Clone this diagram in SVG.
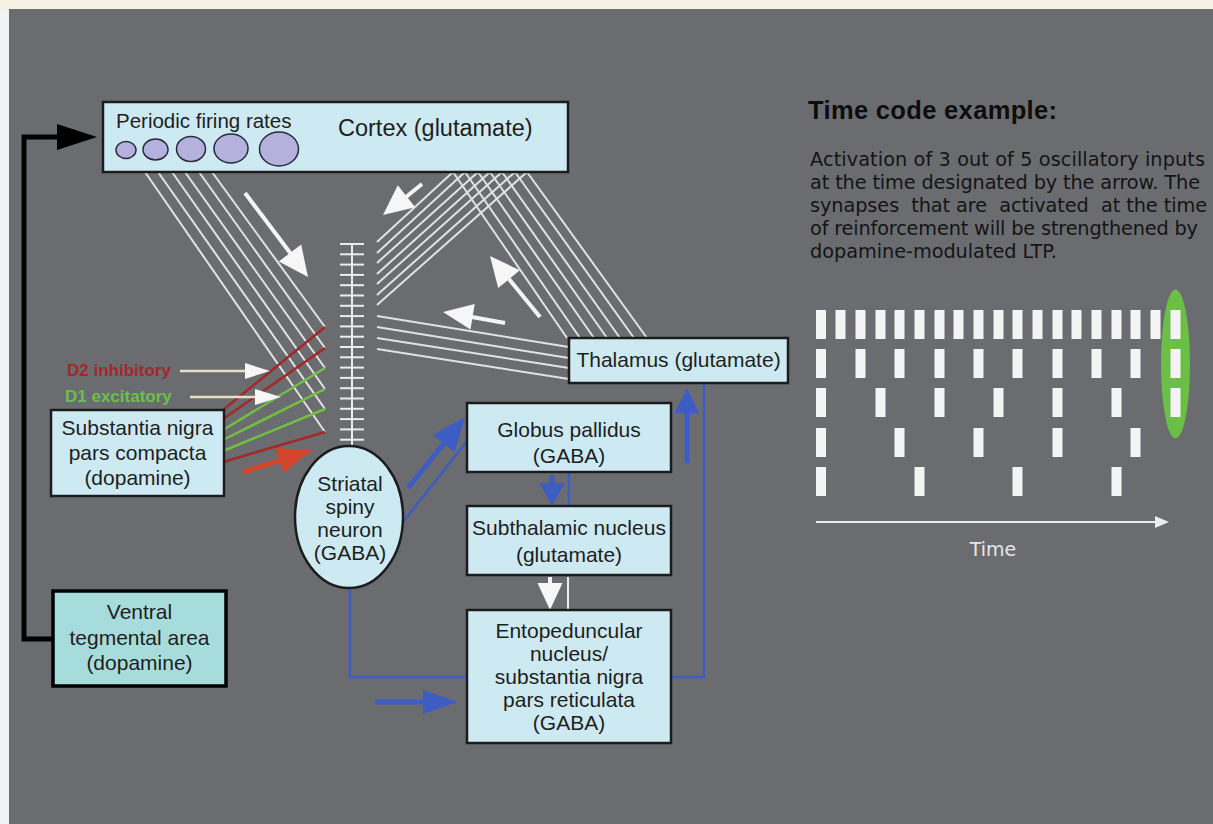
<svg xmlns="http://www.w3.org/2000/svg" width="1213" height="824" viewBox="0 0 1213 824">
<style>
.box{fill:#cdeaf2;stroke:#1c1c1c;stroke-width:2.5}
.t{font-family:"Liberation Sans",Arial,sans-serif;font-size:21px;fill:#1e1e1e;text-anchor:middle}
.w{stroke:#e2e2e2;stroke-width:2;fill:none}
.red{stroke:#a3282a;stroke-width:2.5}
.grn{stroke:#72c043;stroke-width:2.5}
.bl{stroke:#3d5cc4;fill:none;stroke-width:2.5}
.blt{stroke:#3d5cc4;stroke-width:5;fill:none}
.blh{fill:#3d5cc4}
.wa{stroke:#f4f4f4;stroke-width:4}
.wh{fill:#f6f6f6}
.bar{fill:#f4f4f4}
.circ{fill:#b4b1dd;stroke:#2a2a3a;stroke-width:1.5}
.body{font-family:"DejaVu Sans","Liberation Sans",sans-serif;font-size:19.3px;fill:#141414}
</style>
<rect x="0" y="0" width="1213" height="824" fill="#f4f1e3"/>
<rect x="0" y="9" width="9" height="815" fill="#f2f2f2"/>
<rect x="9" y="9" width="1204" height="815" fill="#6b6c70"/>

<g id="connectors">
  <g class="w">
    <line x1="145" y1="172" x2="325" y2="432"/>
    <line x1="158" y1="172" x2="325" y2="409"/>
    <line x1="172" y1="172" x2="325" y2="389"/>
    <line x1="185" y1="172" x2="325" y2="368"/>
    <line x1="199" y1="172" x2="325" y2="348"/>
    <line x1="212" y1="172" x2="325" y2="327"/>
    <line x1="453" y1="172" x2="377" y2="242"/>
    <line x1="465" y1="172" x2="377" y2="253"/>
    <line x1="478" y1="172" x2="377" y2="263"/>
    <line x1="490" y1="172" x2="377" y2="274"/>
    <line x1="502" y1="172" x2="377" y2="284"/>
    <line x1="515" y1="172" x2="377" y2="295"/>
    <line x1="527" y1="172" x2="377" y2="305"/>
    <line x1="453" y1="172" x2="567" y2="338"/>
    <line x1="465" y1="172" x2="580" y2="338"/>
    <line x1="478" y1="172" x2="594" y2="338"/>
    <line x1="490" y1="172" x2="607" y2="338"/>
    <line x1="502" y1="172" x2="620" y2="338"/>
    <line x1="515" y1="172" x2="634" y2="338"/>
    <line x1="527" y1="172" x2="647" y2="338"/>
    <line x1="569" y1="347" x2="377" y2="316"/>
    <line x1="569" y1="358" x2="377" y2="327"/>
    <line x1="569" y1="368" x2="377" y2="338"/>
    <line x1="569" y1="379" x2="377" y2="349"/>
  </g>
  <line class="red" x1="223" y1="410" x2="325" y2="327"/>
  <line class="red" x1="223" y1="419" x2="325" y2="348"/>
  <line class="grn" x1="223" y1="430" x2="325" y2="368"/>
  <line class="grn" x1="223" y1="440" x2="325" y2="389"/>
  <line class="grn" x1="223" y1="451" x2="325" y2="409"/>
  <line class="red" x1="223" y1="462" x2="325" y2="432"/>
  <g stroke="#ececec" stroke-width="2">
    <line x1="352" y1="243" x2="352" y2="448"/>
    <line x1="340" y1="244" x2="364" y2="244"/>
    <line x1="340" y1="254.3" x2="364" y2="254.3"/>
    <line x1="340" y1="264.6" x2="364" y2="264.6"/>
    <line x1="340" y1="274.9" x2="364" y2="274.9"/>
    <line x1="340" y1="285.2" x2="364" y2="285.2"/>
    <line x1="340" y1="295.5" x2="364" y2="295.5"/>
    <line x1="340" y1="305.8" x2="364" y2="305.8"/>
    <line x1="340" y1="316.1" x2="364" y2="316.1"/>
    <line x1="340" y1="326.4" x2="364" y2="326.4"/>
    <line x1="340" y1="336.7" x2="364" y2="336.7"/>
    <line x1="340" y1="347" x2="364" y2="347"/>
    <line x1="340" y1="357.3" x2="364" y2="357.3"/>
    <line x1="340" y1="367.6" x2="364" y2="367.6"/>
    <line x1="340" y1="377.9" x2="364" y2="377.9"/>
    <line x1="340" y1="388.2" x2="364" y2="388.2"/>
    <line x1="340" y1="398.5" x2="364" y2="398.5"/>
    <line x1="340" y1="408.8" x2="364" y2="408.8"/>
    <line x1="340" y1="419.1" x2="364" y2="419.1"/>
    <line x1="340" y1="429.4" x2="364" y2="429.4"/>
    <line x1="340" y1="439.7" x2="364" y2="439.7"/>
  </g>
  <line class="wa" x1="245" y1="193" x2="291" y2="254"/>
  <polygon class="wh" points="308,277 278.8,261.4 301.2,244.6"/>
  <line class="wa" x1="422" y1="184" x2="406" y2="197"/>
  <polygon class="wh" points="383,215 415.2,207.3 397.8,185.3"/>
  <line class="wa" x1="540" y1="317" x2="509" y2="279"/>
  <polygon class="wh" points="490,256 519.8,270.3 498.2,288.1"/>
  <line class="wa" x1="505" y1="323" x2="472" y2="317"/>
  <polygon class="wh" points="443,312 474.7,304 470.5,329.6"/>
  <line x1="180" y1="371" x2="247" y2="371" stroke="#e6e1c4" stroke-width="2.5"/>
  <polygon class="wh" points="245,363 270,371 245,379"/>
  <line x1="190" y1="397" x2="257" y2="397" stroke="#e6e1c4" stroke-width="2.5"/>
  <polygon class="wh" points="255,389 281,397 255,405"/>
  <line x1="243" y1="472" x2="281" y2="460" stroke="#d2452a" stroke-width="5"/>
  <polygon points="312,450 283.2,472.7 275.4,447.9" fill="#d2452a"/>
  <line class="blt" x1="408" y1="488" x2="445" y2="442"/>
  <polygon class="blh" points="465,417 454.7,452.3 432.9,434.9"/>
  <line class="bl" x1="403" y1="522" x2="468" y2="440"/>
  <line class="blt" x1="552" y1="475" x2="552" y2="485"/>
  <polygon class="blh" points="539.5,483 564.5,483 552,506"/>
  <line class="bl" x1="569" y1="472" x2="569" y2="506"/>
  <line class="wa" x1="550" y1="577" x2="550" y2="585"/>
  <polygon class="wh" points="537.5,583 562.5,583 550,610"/>
  <line x1="568" y1="577" x2="568" y2="610" stroke="#eeeeee" stroke-width="2"/>
  <polyline class="bl" points="350,588 350,677 467,677"/>
  <line class="blt" x1="375" y1="702" x2="425" y2="702"/>
  <polygon class="blh" points="423,690 458,702 423,714"/>
  <polyline class="bl" points="671,677 704,677 704,383"/>
  <line class="blt" x1="687" y1="463" x2="687" y2="411"/>
  <polygon class="blh" points="675,413 699,413 687,388"/>
  <polyline points="55,639 24,639 24,137 60,137" fill="none" stroke="#000" stroke-width="5"/>
  <polygon points="57,124 97,137 57,150" fill="#000"/>
</g>

<g id="cortex">
  <rect class="box" x="103" y="102" width="465" height="70"/>
  <text class="t" x="116" y="128" style="text-anchor:start;font-size:20.5px">Periodic firing rates</text>
  <text class="t" x="338" y="136" style="text-anchor:start;font-size:23.5px">Cortex (glutamate)</text>
  <ellipse class="circ" cx="126" cy="150" rx="10" ry="8.5"/>
  <ellipse class="circ" cx="155.5" cy="149.5" rx="12.5" ry="10.5"/>
  <ellipse class="circ" cx="191" cy="149" rx="14.5" ry="12.5"/>
  <ellipse class="circ" cx="231" cy="148.5" rx="17" ry="14.5"/>
  <ellipse class="circ" cx="279" cy="149" rx="19.5" ry="17"/>
</g>

<g id="thalamus">
  <rect class="box" x="569" y="338" width="219" height="45"/>
  <text class="t" x="678.5" y="367">Thalamus (glutamate)</text>
</g>

<g id="labels">
  <text x="67" y="376" font-family="Liberation Sans, Arial, sans-serif" font-size="17" font-weight="bold" fill="#a3282a">D2 inhibitory</text>
  <text x="65" y="402" font-family="Liberation Sans, Arial, sans-serif" font-size="17" font-weight="bold" fill="#6cc04a">D1 excitatory</text>
</g>

<g id="snc">
  <rect class="box" x="51" y="410" width="173" height="86"/>
  <text class="t" x="137.5" y="435">Substantia nigra</text>
  <text class="t" x="137.5" y="460">pars compacta</text>
  <text class="t" x="137.5" y="485">(dopamine)</text>
</g>

<g id="vta">
  <rect x="53" y="591" width="173" height="95" fill="#a7dcdc" stroke="#000" stroke-width="3.5"/>
  <text class="t" x="139.5" y="619">Ventral</text>
  <text class="t" x="139.5" y="645">tegmental area</text>
  <text class="t" x="139.5" y="670">(dopamine)</text>
</g>

<g id="striatal">
  <ellipse cx="349" cy="517" rx="54" ry="71" fill="#cdeaf2" stroke="#1c1c1c" stroke-width="2.5"/>
  <text class="t" x="350" y="491">Striatal</text>
  <text class="t" x="350" y="514">spiny</text>
  <text class="t" x="350" y="537">neuron</text>
  <text class="t" x="350" y="560">(GABA)</text>
</g>

<g id="gp">
  <rect class="box" x="467" y="403" width="204" height="69"/>
  <text class="t" x="569" y="437">Globus pallidus</text>
  <text class="t" x="569" y="463">(GABA)</text>
</g>

<g id="stn">
  <rect class="box" x="467" y="506" width="204" height="69"/>
  <text class="t" x="569" y="535">Subthalamic nucleus</text>
  <text class="t" x="569" y="562">(glutamate)</text>
</g>

<g id="ep">
  <rect class="box" x="467" y="610" width="204" height="133"/>
  <text class="t" x="569" y="638">Entopeduncular</text>
  <text class="t" x="569" y="661">nucleus/</text>
  <text class="t" x="569" y="684">substantia nigra</text>
  <text class="t" x="569" y="707">pars reticulata</text>
  <text class="t" x="569" y="730">(GABA)</text>
</g>

<g id="timecode">
  <text x="808" y="119" font-family="Liberation Sans, Arial, sans-serif" font-size="25.5" font-weight="bold" fill="#0d0d0d" textLength="249">Time code example:</text>
  <text class="body" x="810" y="166" textLength="395">Activation of 3 out of 5 oscillatory inputs</text>
  <text class="body" x="810" y="189" textLength="390">at the time designated by the arrow. The</text>
  <text class="body" x="810" y="212" textLength="397" xml:space="preserve">synapses  that are  activated  at the time</text>
  <text class="body" x="810" y="235" textLength="388">of reinforcement will be strengthened by</text>
  <text class="body" x="810" y="258" textLength="247">dopamine-modulated LTP.</text>
  <ellipse cx="1175.5" cy="364" rx="14.5" ry="74.5" fill="#6cbf46"/>
  <g class="bar">
    <rect x="816" y="310" width="10" height="29"/><rect x="835.5" y="310" width="10" height="29"/><rect x="855.5" y="310" width="10" height="29"/><rect x="875.5" y="310" width="10" height="29"/><rect x="894.5" y="310" width="10" height="29"/><rect x="914.5" y="310" width="10" height="29"/><rect x="934.5" y="310" width="10" height="29"/><rect x="953.5" y="310" width="10" height="29"/><rect x="973.5" y="310" width="10" height="29"/><rect x="993.5" y="310" width="10" height="29"/><rect x="1012.5" y="310" width="10" height="29"/><rect x="1032.5" y="310" width="10" height="29"/><rect x="1052.5" y="310" width="10" height="29"/><rect x="1071.5" y="310" width="10" height="29"/><rect x="1091.5" y="310" width="10" height="29"/><rect x="1111.5" y="310" width="10" height="29"/><rect x="1130.5" y="310" width="10" height="29"/><rect x="1150.5" y="310" width="10" height="29"/><rect x="1170.5" y="310" width="10" height="29"/>
    <rect x="816" y="349" width="10" height="29"/><rect x="855.5" y="349" width="10" height="29"/><rect x="894.5" y="349" width="10" height="29"/><rect x="934.5" y="349" width="10" height="29"/><rect x="973.5" y="349" width="10" height="29"/><rect x="1012.5" y="349" width="10" height="29"/><rect x="1052.5" y="349" width="10" height="29"/><rect x="1091.5" y="349" width="10" height="29"/><rect x="1130.5" y="349" width="10" height="29"/><rect x="1170.5" y="349" width="10" height="29"/>
    <rect x="816" y="388" width="10" height="29"/><rect x="875.5" y="388" width="10" height="29"/><rect x="934.5" y="388" width="10" height="29"/><rect x="993.5" y="388" width="10" height="29"/><rect x="1052.5" y="388" width="10" height="29"/><rect x="1111.5" y="388" width="10" height="29"/><rect x="1170.5" y="388" width="10" height="29"/>
    <rect x="816" y="428" width="10" height="29"/><rect x="894.5" y="428" width="10" height="29"/><rect x="973.5" y="428" width="10" height="29"/><rect x="1052.5" y="428" width="10" height="29"/><rect x="1130.5" y="428" width="10" height="29"/>
    <rect x="816" y="467" width="10" height="29"/><rect x="914.5" y="467" width="10" height="29"/><rect x="1012.5" y="467" width="10" height="29"/><rect x="1111.5" y="467" width="10" height="29"/>
  </g>
  <line x1="816" y1="522" x2="1157" y2="522" stroke="#ececec" stroke-width="2"/>
  <polygon points="1155,516 1169,522 1155,528" fill="#ececec"/>
  <text x="993" y="556" font-family="DejaVu Sans, Liberation Sans, sans-serif" font-size="19" fill="#e6e6e6" text-anchor="middle">Time</text>
</g>
</svg>
